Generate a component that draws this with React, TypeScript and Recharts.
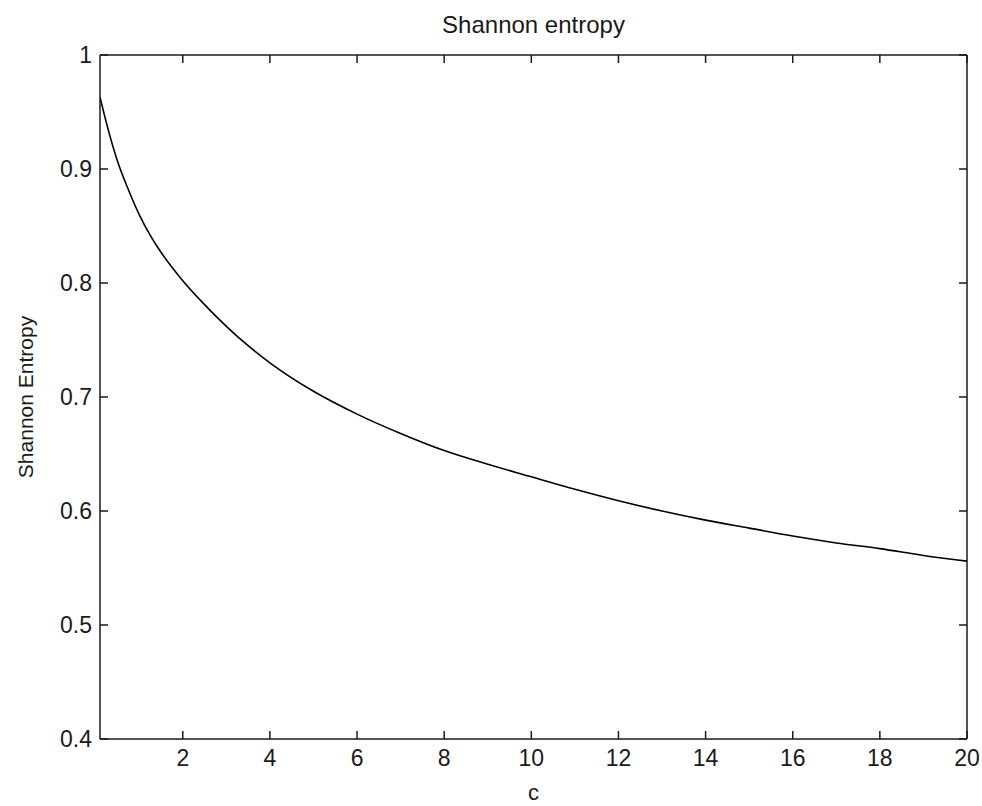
import { Label, Line, LineChart, XAxis, YAxis } from "recharts";

// c values and entropy
const cValues = [0.1, 0.25, 0.5, 0.75, 1, 1.25, 1.5, 2, 2.5, 3, 3.5, 4, 5, 6, 7, 8, 9, 10, 11, 12, 13, 14, 15, 16, 17, 18, 19, 20];
const entropy = [0.963, 0.94, 0.907, 0.882, 0.86, 0.842, 0.827, 0.802, 0.781, 0.762, 0.745, 0.73, 0.705, 0.685, 0.668, 0.653, 0.641, 0.63, 0.619, 0.609, 0.6, 0.592, 0.585, 0.578, 0.572, 0.567, 0.561, 0.556];

const xTicks = [2, 4, 6, 8, 10, 12, 14, 16, 18, 20];
const yTicks = [0.4, 0.5, 0.6, 0.7, 0.8, 0.9, 1];

const data = cValues.map((c, i) => ({ c, h: entropy[i] }));

const ink = "#1a1a1a";
const font = "'Liberation Sans', Arial, sans-serif";
const TICK = 8; // inward tick length, matlab style
const X_GAP = 11;
const Y_GAP = 8;

// bottom axis: label below, tick mark pointing up into the plot
const BottomTick = (props: any) => {
  const { x, y, payload } = props;
  const axisY = y - X_GAP;
  return (
    <g>
      <line x1={x} x2={x} y1={axisY} y2={axisY - TICK} stroke={ink} strokeWidth={1.5} />
      <text x={x} y={y} dy="0.71em" textAnchor="middle" fontSize={23} fill={ink} fontFamily={font}>
        {payload.value}
      </text>
    </g>
  );
};

const LeftTick = (props: any) => {
  const { x, y, payload } = props;
  const axisX = x + Y_GAP;
  return (
    <g>
      <line x1={axisX} x2={axisX + TICK} y1={y} y2={y} stroke={ink} strokeWidth={1.5} />
      <text x={x} y={y} dy="0.355em" textAnchor="end" fontSize={23} fill={ink} fontFamily={font}>
        {String(payload.value)}
      </text>
    </g>
  );
};

const TopTick = (props: any) => {
  const { x, y } = props;
  return <line x1={x} x2={x} y1={y} y2={y + TICK} stroke={ink} strokeWidth={1.5} />;
};

const RightTick = (props: any) => {
  const { x, y } = props;
  return <line x1={x} x2={x - TICK} y1={y} y2={y} stroke={ink} strokeWidth={1.5} />;
};

export default function App() {
  return (
    <div style={{ position: "absolute", left: 0, top: 0, background: "#fff" }}>
      <LineChart width={982} height={806} data={data} margin={{ top: 0, right: 0, bottom: 0, left: 0 }}>
        <XAxis
          xAxisId="bottom"
          dataKey="c"
          type="number"
          domain={[0.1, 20]}
          ticks={xTicks}
          allowDataOverflow
          height={67}
          tickSize={0}
          tickMargin={X_GAP}
          tickLine={false}
          tick={<BottomTick />}
          stroke={ink}
          strokeWidth={1.5}
        >
          <Label value="c" position="insideBottom" offset={6} style={{ fontSize: 22, fill: ink, fontFamily: font }} />
        </XAxis>
        <XAxis
          xAxisId="top"
          orientation="top"
          dataKey="c"
          type="number"
          domain={[0.1, 20]}
          ticks={xTicks}
          allowDataOverflow
          height={55}
          tickSize={0}
          tickMargin={0}
          tickLine={false}
          tick={<TopTick />}
          stroke={ink}
          strokeWidth={1.5}
        >
          <Label value="Shannon entropy" position="center" dy={-3} style={{ fontSize: 24, fill: ink, fontFamily: font }} />
        </XAxis>
        <YAxis
          yAxisId="left"
          type="number"
          domain={[0.4, 1]}
          ticks={yTicks}
          allowDataOverflow
          width={100}
          tickSize={0}
          tickMargin={Y_GAP}
          tickLine={false}
          tick={<LeftTick />}
          stroke={ink}
          strokeWidth={1.5}
        >
          <Label
            value="Shannon Entropy"
            angle={-90}
            position="insideLeft"
            offset={26}
            style={{ textAnchor: "middle", fontSize: 21, fill: ink, fontFamily: font }}
          />
        </YAxis>
        <YAxis
          yAxisId="right"
          orientation="right"
          type="number"
          domain={[0.4, 1]}
          ticks={yTicks}
          allowDataOverflow
          width={15}
          tickSize={0}
          tickMargin={0}
          tickLine={false}
          tick={<RightTick />}
          stroke={ink}
          strokeWidth={1.5}
        />
        <Line
          xAxisId="bottom"
          yAxisId="left"
          type="monotone"
          dataKey="h"
          stroke="#000"
          strokeWidth={1.6}
          dot={false}
          isAnimationActive={false}
        />
      </LineChart>
    </div>
  );
}
